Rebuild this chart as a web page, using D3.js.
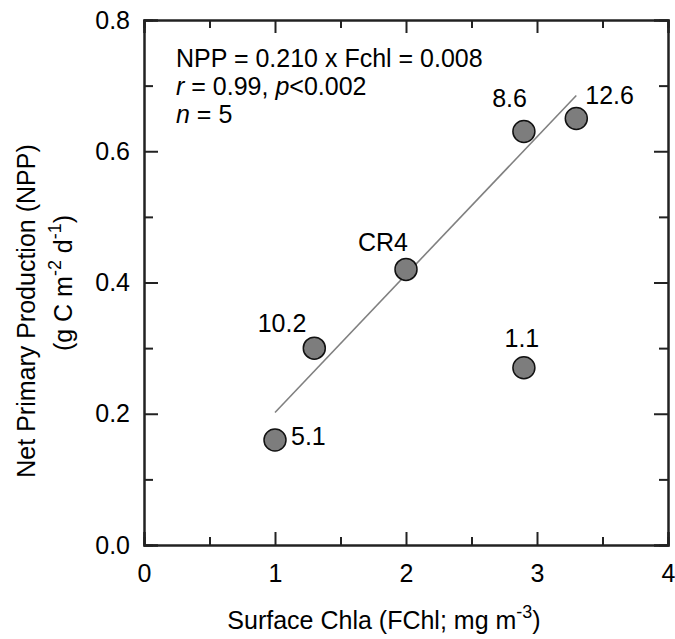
<!DOCTYPE html>
<html>
<head>
<meta charset="utf-8">
<script src="https://cdn.jsdelivr.net/npm/d3@7"></script>
<style>
  body { margin: 0; background: #fff; }
  svg text { font-family: "Liberation Sans", Arial, sans-serif; fill: #000; }
</style>
</head>
<body>
<div id="chart"></div>
<script>
// data
const chla = [1.0, 1.3, 2.0, 2.9, 2.9, 3.3];
const npp = [0.16, 0.30, 0.42, 0.63, 0.27, 0.65];
const sites = ["5.1", "10.2", "CR4", "8.6", "1.1", "12.6"];
const xTicks = [0, 1, 2, 3, 4];
const xMinorTicks = [0.5, 1.5, 2.5, 3.5];
const yTicks = [0, 0.2, 0.4, 0.6, 0.8];
const yMinorTicks = [0.1, 0.3, 0.5, 0.7];
const fitSlope = 0.210;
const fitIntercept = -0.008;
const statLines = ["NPP = 0.210 x Fchl = 0.008"];

// label placement relative to each point (position only)
const labelOffset = {
    "5.1": {dx: 16, dy: 5, anchor: "start"},
    "10.2": {dx: -8, dy: -16, anchor: "end"},
    "CR4": {dx: -23, dy: -18, anchor: "middle"},
    "8.6": {dx: 3, dy: -25, anchor: "end"},
    "1.1": {dx: -2, dy: -21, anchor: "middle"},
    "12.6": {dx: 9, dy: -14, anchor: "start"}
};

const width = 675, height = 639;
const margin = {top: 20, right: 7, bottom: 94, left: 144};
const innerW = width - margin.left - margin.right;
const innerH = height - margin.top - margin.bottom;
const fontSize = 25;
const supSize = 18;

const svg = d3.select("#chart").append("svg")
    .attr("width", width)
    .attr("height", height);

const g = svg.append("g")
    .attr("transform", "translate(" + margin.left + "," + margin.top + ")");

const x = d3.scaleLinear().domain([0, 4]).range([0, innerW]);
const y = d3.scaleLinear().domain([0, 0.8]).range([innerH, 0]);

function styleAxis(sel) {
    sel.selectAll(".domain").attr("stroke", "#222").attr("stroke-width", 2);
    sel.selectAll(".tick line").attr("stroke", "#222").attr("stroke-width", 2);
    sel.selectAll("text").attr("font-size", fontSize).attr("fill", "#000");
}

// bottom axis, ticks pointing inward
g.append("g")
    .attr("transform", "translate(0," + innerH + ")")
    .call(d3.axisBottom(x).tickValues(xTicks).tickSize(-13).tickPadding(19).tickFormat(d3.format("d")))
    .call(styleAxis);
g.append("g")
    .attr("transform", "translate(0," + innerH + ")")
    .call(d3.axisBottom(x).tickValues(xMinorTicks).tickSize(-8).tickFormat(""))
    .call(styleAxis);

// top axis
g.append("g")
    .call(d3.axisTop(x).tickValues(xTicks).tickSize(-13).tickFormat(""))
    .call(styleAxis);
g.append("g")
    .call(d3.axisTop(x).tickValues(xMinorTicks).tickSize(-8).tickFormat(""))
    .call(styleAxis);

// left axis
g.append("g")
    .call(d3.axisLeft(y).tickValues(yTicks).tickSize(-14).tickPadding(14).tickFormat(d3.format(".1f")))
    .call(styleAxis);
g.append("g")
    .call(d3.axisLeft(y).tickValues(yMinorTicks).tickSize(-9).tickFormat(""))
    .call(styleAxis);

// right axis
g.append("g")
    .attr("transform", "translate(" + innerW + ",0)")
    .call(d3.axisRight(y).tickValues(yTicks).tickSize(-14).tickFormat(""))
    .call(styleAxis);
g.append("g")
    .attr("transform", "translate(" + innerW + ",0)")
    .call(d3.axisRight(y).tickValues(yMinorTicks).tickSize(-9).tickFormat(""))
    .call(styleAxis);

// regression line over the range of the data
let fitX = d3.extent(chla);
g.append("line")
    .attr("x1", x(fitX[0]))
    .attr("y1", y(fitSlope * fitX[0] + fitIntercept))
    .attr("x2", x(fitX[1]))
    .attr("y2", y(fitSlope * fitX[1] + fitIntercept))
    .attr("stroke", "#808080")
    .attr("stroke-width", 1.6);

// points
let points = chla.map((d, i) => ({x: d, y: npp[i], site: sites[i]}));

g.selectAll("circle.pt").data(points)
    .enter().append("circle")
    .attr("class", "pt")
    .attr("cx", d => x(d.x))
    .attr("cy", d => y(d.y))
    .attr("r", 11)
    .attr("fill", "#7d7d7d")
    .attr("stroke", "#111")
    .attr("stroke-width", 1.5);

g.selectAll("text.site").data(points)
    .enter().append("text")
    .attr("class", "site")
    .attr("x", d => x(d.x) + labelOffset[d.site].dx)
    .attr("y", d => y(d.y) + labelOffset[d.site].dy)
    .attr("text-anchor", d => labelOffset[d.site].anchor)
    .attr("font-size", fontSize)
    .text(d => d.site);

// regression statistics
let stats = g.append("text")
    .attr("x", 32)
    .attr("y", 47)
    .attr("font-size", fontSize);
stats.append("tspan").text(statLines[0]);

let line2 = g.append("text").attr("x", 32).attr("y", 75).attr("font-size", fontSize);
line2.append("tspan").attr("font-style", "italic").text("r");
line2.append("tspan").text(" = 0.99, ");
line2.append("tspan").attr("font-style", "italic").text("p");
line2.append("tspan").text("<0.002");

let line3 = g.append("text").attr("x", 32).attr("y", 103).attr("font-size", fontSize);
line3.append("tspan").attr("font-style", "italic").text("n");
line3.append("tspan").text(" = 5");

// x axis title
let xTitle = svg.append("text")
    .attr("x", 384)
    .attr("y", 629)
    .attr("text-anchor", "middle")
    .attr("font-size", fontSize);
xTitle.append("tspan").text("Surface Chla (FChl; mg m");
xTitle.append("tspan").attr("font-size", supSize).attr("dy", -11).text("-3");
xTitle.append("tspan").attr("dy", 11).text(")");

// y axis title (two lines), rotated
let yTitle = svg.append("g")
    .attr("transform", "rotate(-90)");
yTitle.append("text")
    .attr("x", -311)
    .attr("y", 35)
    .attr("text-anchor", "middle")
    .attr("font-size", fontSize)
    .text("Net Primary Production (NPP)");
let yT2 = yTitle.append("text")
    .attr("x", -283)
    .attr("y", 72)
    .attr("text-anchor", "middle")
    .attr("font-size", fontSize);
yT2.append("tspan").text("(g C m");
yT2.append("tspan").attr("font-size", supSize).attr("dy", -11).text("-2");
yT2.append("tspan").attr("dy", 11).text(" d");
yT2.append("tspan").attr("font-size", supSize).attr("dy", -11).text("-1");
yT2.append("tspan").attr("dy", 11).text(")");
</script>
</body>
</html>
